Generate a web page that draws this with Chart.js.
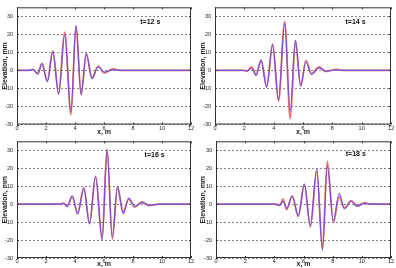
<!DOCTYPE html>
<html>
<head>
<meta charset="utf-8">
<script src="https://cdn.jsdelivr.net/npm/chart.js@4"></script>
<style>
  body { margin: 0; background: #fff; width: 396px; height: 268px; position: relative; overflow: hidden; }
  .panel { position: absolute; }
</style>
</head>
<body>
<div class="panel" style="left:0;top:0;width:198px;height:136px"><canvas id="c12"></canvas></div>
<div class="panel" style="left:198px;top:0;width:198px;height:136px"><canvas id="c14"></canvas></div>
<div class="panel" style="left:0;top:134px;width:198px;height:134px"><canvas id="c16"></canvas></div>
<div class="panel" style="left:198px;top:134px;width:198px;height:134px"><canvas id="c18"></canvas></div>
<script>
// wave profiles (x in m, elevation in mm)
const x12 = [0, 0.8, 1.1, 1.43, 1.72, 2.09, 2.47, 2.87, 3.29, 3.72, 4.07, 4.42, 4.78, 5.17, 5.6, 6.02, 6.6, 7.1, 12]
const blue12 = [0, 0, 0.6, -2, 3.6, -6.3, 10.4, -13.3, 20, -22.8, 25, -13.6, 9.4, -4.6, 2, -1, 0.3, 0, 0]
const red12 = [0, 0, 0.4, -1.8, 3.9, -5.8, 10.8, -12.8, 21.2, -24.5, 24.6, -13.2, 9, -4.2, 2.4, -1.4, 0.8, 0, 0]

const x14 = [0, 1.9, 2.2, 2.5, 2.8, 3.14, 3.52, 3.93, 4.33, 4.75, 5.13, 5.48, 5.84, 6.2, 6.58, 7.1, 7.55, 8.3, 8.7, 12]
const blue14 = [0, 0, -0.4, 1.2, -2.8, 5.8, -9.4, 14, -16, 26, -22.8, 16.8, -8.8, 4.8, -2.2, 1.4, -0.4, 0.3, 0, 0]
const red14 = [0, 0, -0.2, 2, -2.4, 5.6, -9, 14.6, -17, 27, -26.8, 16.4, -8.4, 5.4, -1.8, 1.9, -0.6, 0.6, 0, 0]

const x16 = [0, 3.0, 3.2, 3.47, 3.81, 4.18, 4.61, 5.0, 5.42, 5.87, 6.21, 6.57, 6.93, 7.32, 7.71, 8.12, 8.62, 9.1, 9.8, 12]
const blue16 = [0, 0, 0.4, -1.4, 4.6, -5.6, 8.9, -11, 15.4, -19.8, 30.3, -18.4, 9.8, -5.4, 3.3, -1.3, 0.8, -0.5, 0, 0]
const red16 = [0, 0, 0.6, -0.9, 4.2, -5, 9, -10.8, 15.6, -19.4, 30.6, -19.4, 9.4, -4.4, 2.8, -1.6, 1.2, -0.8, 0, 0]

const x18 = [0, 4.0, 4.38, 4.6, 4.84, 5.23, 5.64, 6.06, 6.47, 6.91, 7.3, 7.63, 8.05, 8.44, 8.81, 9.27, 9.66, 10.22, 10.5, 12]
const blue18 = [0, 0, -0.8, 1.6, -2.4, 4.4, -6.4, 11.2, -12, 19.8, -25.8, 21, -9.4, 6, -2.6, 1.6, -1.2, 0.4, 0, 0]
const red18 = [0, 0, -0.4, 2.8, -3, 4.6, -6.8, 10.8, -12.6, 18.4, -25, 23.8, -10.2, 4.2, -2, 2, -0.8, 0.8, 0, 0]

const yTicks = [-30, -20, -10, 0, 10, 20, 30]

Chart.defaults.font.family = 'Liberation Sans'
Chart.defaults.color = '#222'

// matlab-like box with inward ticks, plus the time label
const boxPlugin = {
  id: 'box',
  afterDraw: (chart) => {
    const {ctx, chartArea: a, scales} = chart
    ctx.save()
    ctx.strokeStyle = '#333'
    ctx.lineWidth = 1
    ctx.strokeRect(a.left + 0.5, a.top + 0.5, a.right - a.left - 1, a.bottom - a.top - 1)
    ctx.beginPath()
    scales.x.ticks.forEach(t => {
      let px = Math.round(scales.x.getPixelForValue(t.value)) + 0.5
      ctx.moveTo(px, a.bottom); ctx.lineTo(px, a.bottom - 2)
      ctx.moveTo(px, a.top); ctx.lineTo(px, a.top + 2)
    })
    scales.y.ticks.forEach(t => {
      let py = Math.round(scales.y.getPixelForValue(t.value)) + 0.5
      ctx.moveTo(a.left, py); ctx.lineTo(a.left + 2, py)
      ctx.moveTo(a.right, py); ctx.lineTo(a.right - 2, py)
    })
    ctx.stroke()
    let lab = chart.options.plugins.box
    ctx.fillStyle = '#111'
    ctx.font = 'bold 7px Liberation Sans'
    ctx.textBaseline = 'middle'
    ctx.fillText(lab.text, scales.x.getPixelForValue(lab.x), scales.y.getPixelForValue(lab.y))
    ctx.restore()
  }
}

const makePanel = (id, xs, blue, red, label, lay) => {
  let ctx = document.getElementById(id).getContext('2d')
  return new Chart(ctx, {
    type: 'line',
    data: {
      datasets: [
        {
          data: xs.map((x, i) => ({x: x, y: blue[i]})),
          borderColor: 'rgba(100,80,228,0.9)',
          borderWidth: 1.2,
          order: 0,
        },
        {
          data: xs.map((x, i) => ({x: x, y: red[i]})),
          borderColor: 'rgba(238,85,85,0.85)',
          borderWidth: 1.8,
          order: 1,
        },
      ]
    },
    options: {
      responsive: true,
      maintainAspectRatio: false,
      animation: false,
      layout: { padding: { left: 0, top: lay.top, right: lay.right, bottom: 0 } },
      elements: {
        point: { radius: 0 },
        line: { cubicInterpolationMode: 'monotone' }
      },
      scales: {
        x: {
          type: 'linear',
          min: 0,
          max: 12,
          afterFit: s => { s.height = lay.xh },
          ticks: { stepSize: 2, padding: 0.5, maxRotation: 0, font: { size: 5.5 } },
          grid: { display: false, drawTicks: false },
          border: { display: false },
          title: { display: true, text: 'x, m', padding: 0, font: { size: 7, weight: 'bold' } }
        },
        y: {
          min: -30,
          max: 35,
          afterFit: s => { s.width = lay.yw },
          afterBuildTicks: s => { s.ticks = yTicks.map(v => ({value: v})) },
          ticks: { padding: 4, font: { size: 5.5 } },
          grid: { color: '#666', lineWidth: 0.8, drawTicks: false },
          border: { display: false, dash: [2, 2] },
          title: { display: true, text: 'Elevation, mm', padding: { top: 0.5, bottom: 0 }, font: { size: 7, weight: 'bold' } }
        }
      },
      plugins: {
        legend: { display: false },
        tooltip: { enabled: false },
        box: label
      }
    },
    plugins: [boxPlugin]
  })
}

makePanel('c12', x12, blue12, red12, {text: 't=12 s', x: 8.5, y: 27}, {top: 3, right: 7, xh: 11.5, yw: 17})
makePanel('c14', x14, blue14, red14, {text: 't=14 s', x: 8.9, y: 27}, {top: 3, right: 5, xh: 11.5, yw: 17})
makePanel('c16', x16, blue16, red16, {text: 't=16 s', x: 8.8, y: 27.4}, {top: 6, right: 7, xh: 10, yw: 17})
makePanel('c18', x18, blue18, red18, {text: 't=18 s', x: 8.9, y: 28}, {top: 6, right: 5, xh: 10, yw: 18})
</script>
</body>
</html>
